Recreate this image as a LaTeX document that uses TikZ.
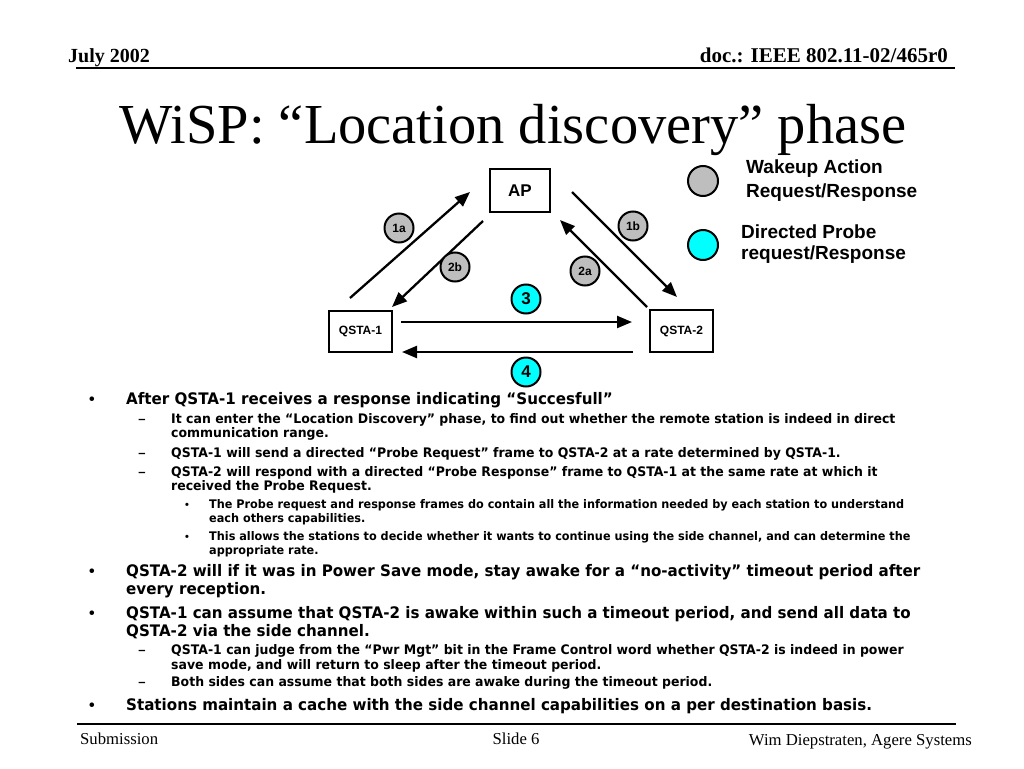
\documentclass[tikz,border=0pt]{standalone}
\usepackage{fontspec}
\setmainfont{Liberation Serif}
\newfontfamily\tnr{Liberation Serif}
\newfontfamily\arial{Liberation Sans}
\newfontfamily\tah{DejaVu Sans}[FakeStretch=0.95]
\usetikzlibrary{arrows.meta}
\definecolor{wgray}{RGB}{190,190,190}
\definecolor{pcyan}{RGB}{0,255,255}
\newcommand{\fs}[1]{\fontsize{#1}{#1}\selectfont}
\begin{document}
\begin{tikzpicture}[x=1pt,y=-1pt,
  box/.style={draw, line width=2pt, inner sep=0, font=\arial\bfseries},
  stepcirc/.style={circle, draw, line width=2pt, minimum size=29pt, inner sep=0, font=\arial\bfseries\fs{12}},
  wake/.style={stepcirc, fill=wgray},
  probe/.style={stepcirc, fill=pcyan, font=\arial\bfseries\fs{17}},
  arr/.style={line width=2.3pt, -{Triangle[length=15pt,width=12pt]}},
  ln/.style={anchor=base west, inner sep=0},
  lone/.style={ln, font=\tah\bfseries\fs{15.9}},
  ltwo/.style={ln, font=\tah\bfseries\fs{13.15}},
  lthree/.style={ln, font=\tah\bfseries\fs{11.85}},
  bul/.style={anchor=base, inner sep=0, font=\arial\bfseries},
  legtext/.style={anchor=base west, inner sep=0, font=\arial\bfseries\fs{19}},
  rule/.style={line width=2pt}]
\fill[white] (0,0) rectangle (1024,768);
\useasboundingbox (0,0) rectangle (1024,768);
% header
\node[anchor=base west, inner sep=0, font=\tnr\bfseries\fs{20}] (hdl) at (68,63) {July 2002};
\node[anchor=base east, inner sep=0, font=\tnr\bfseries\fs{21}] (hdr) at (948,63) {doc.: IEEE 802.11-02/465r0};
\coordinate (hl1) at (76,68); \coordinate (hl2) at (955,68);
\draw[rule] (hl1) -- (hl2);
% title
\node[anchor=base, inner sep=0, font=\tnr\fs{56.5}] (title) at (513,143) {WiSP: “Location discovery” phase};
% diagram
\node[box, minimum width=60pt, minimum height=43pt, font=\arial\bfseries\fs{17}] (ap) at (520,190.5) {AP};
\node[box, minimum width=63pt, minimum height=41pt, font=\arial\bfseries\fs{12}] (q1) at (360.5,331.5) {QSTA-1};
\node[box, minimum width=63pt, minimum height=42pt, font=\arial\bfseries\fs{12}] (q2) at (681.5,331) {QSTA-2};
\coordinate (a1s) at (350,298); \coordinate (a1e) at (470,192);
\coordinate (b2s) at (483,221); \coordinate (b2e) at (392,307);
\coordinate (b1s) at (572,192); \coordinate (b1e) at (677,297);
\coordinate (a2s) at (647,307); \coordinate (a2e) at (560,220);
\coordinate (c3s) at (401,322); \coordinate (c3e) at (632,322);
\coordinate (c4s) at (633,352); \coordinate (c4e) at (402,352);
\draw[arr] (a1s) -- (a1e);
\draw[arr] (b2s) -- (b2e);
\draw[arr] (b1s) -- (b1e);
\draw[arr] (a2s) -- (a2e);
\draw[arr] (c3s) -- (c3e);
\draw[arr] (c4s) -- (c4e);
\node[wake] (s1a) at (399,228) {1a};
\node[wake] (s1b) at (633,226) {1b};
\node[wake] (s2b) at (455,267) {2b};
\node[wake] (s2a) at (585,271) {2a};
\node[probe] (s3) at (526,299) {3};
\node[probe] (s4) at (526,372) {4};
% legend
\node[stepcirc, fill=wgray, minimum size=30pt] (lg1) at (703,181) {};
\node[stepcirc, fill=pcyan, minimum size=30pt] (lg2) at (703,245) {};
\node[legtext] (lt1) at (746,173.5) {Wakeup Action};
\node[legtext] (lt2) at (746,197.5) {Request/Response};
\node[legtext] (lt3) at (741,238) {Directed Probe};
\node[legtext] (lt4) at (741,259) {request/Response};
% bullets
\node[bul, font=\arial\bfseries\fs{16}] (b1) at (92,404) {•};
\node[lone] (t1) at (126,404) {After QSTA-1 receives a response indicating “Succesfull”};
\node[bul, font=\arial\bfseries\fs{13}] (d1) at (142,423) {–};
\node[ltwo] (t2) at (171,423) {It can enter the “Location Discovery” phase, to find out whether the remote station is indeed in direct};
\node[ltwo] (t3) at (171,437) {communication range.};
\node[bul, font=\arial\bfseries\fs{13}] (d2) at (142,457.5) {–};
\node[ltwo] (t4) at (171,457.5) {QSTA-1 will send a directed “Probe Request” frame to QSTA-2 at a rate determined by QSTA-1.};
\node[bul, font=\arial\bfseries\fs{13}] (d3) at (142,476.5) {–};
\node[ltwo] (t5) at (171,476.5) {QSTA-2 will respond with a directed “Probe Response” frame to QSTA-1 at the same rate at which it};
\node[ltwo] (t6) at (171,490.5) {received the Probe Request.};
\node[bul, font=\arial\bfseries\fs{11}] (e1) at (187,508) {•};
\node[lthree] (t7) at (209,508) {The Probe request and response frames do contain all the information needed by each station to understand};
\node[lthree] (t8) at (209,522) {each others capabilities.};
\node[bul, font=\arial\bfseries\fs{11}] (e2) at (187,540) {•};
\node[lthree] (t9) at (209,540) {This allows the stations to decide whether it wants to continue using the side channel, and can determine the};
\node[lthree] (t10) at (209,554) {appropriate rate.};
\node[bul, font=\arial\bfseries\fs{16}] (b2) at (92,576) {•};
\node[lone] (t11) at (126,576) {QSTA-2 will if it was in Power Save mode, stay awake for a “no-activity” timeout period after};
\node[lone] (t12) at (126,594) {every reception.};
\node[bul, font=\arial\bfseries\fs{16}] (b3) at (92,618) {•};
\node[lone] (t13) at (126,618) {QSTA-1 can assume that QSTA-2 is awake within such a timeout period, and send all data to};
\node[lone] (t14) at (126,636) {QSTA-2 via the side channel.};
\node[bul, font=\arial\bfseries\fs{13}] (d4) at (142,654.5) {–};
\node[ltwo] (t15) at (171,654.5) {QSTA-1 can judge from the “Pwr Mgt” bit in the Frame Control word whether QSTA-2 is indeed in power};
\node[ltwo] (t16) at (171,669) {save mode, and will return to sleep after the timeout period.};
\node[bul, font=\arial\bfseries\fs{13}] (d5) at (142,686.5) {–};
\node[ltwo] (t17) at (171,686.5) {Both sides can assume that both sides are awake during the timeout period.};
\node[bul, font=\arial\bfseries\fs{16}] (b4) at (92,710) {•};
\node[lone] (t18) at (126,710) {Stations maintain a cache with the side channel capabilities on a per destination basis.};
% footer
\coordinate (fl1) at (77,724); \coordinate (fl2) at (956,724);
\draw[rule] (fl1) -- (fl2);
\node[anchor=base west, inner sep=0, font=\tnr\fs{16.7}] (f1) at (80,744) {Submission};
\node[anchor=base, inner sep=0, font=\tnr\fs{16.7}] (f2) at (516,744) {Slide 6};
\node[anchor=base east, inner sep=0, font=\tnr\fs{16.7}] (f3) at (972,745) {Wim Diepstraten, Agere Systems};
\end{tikzpicture}
\end{document}
